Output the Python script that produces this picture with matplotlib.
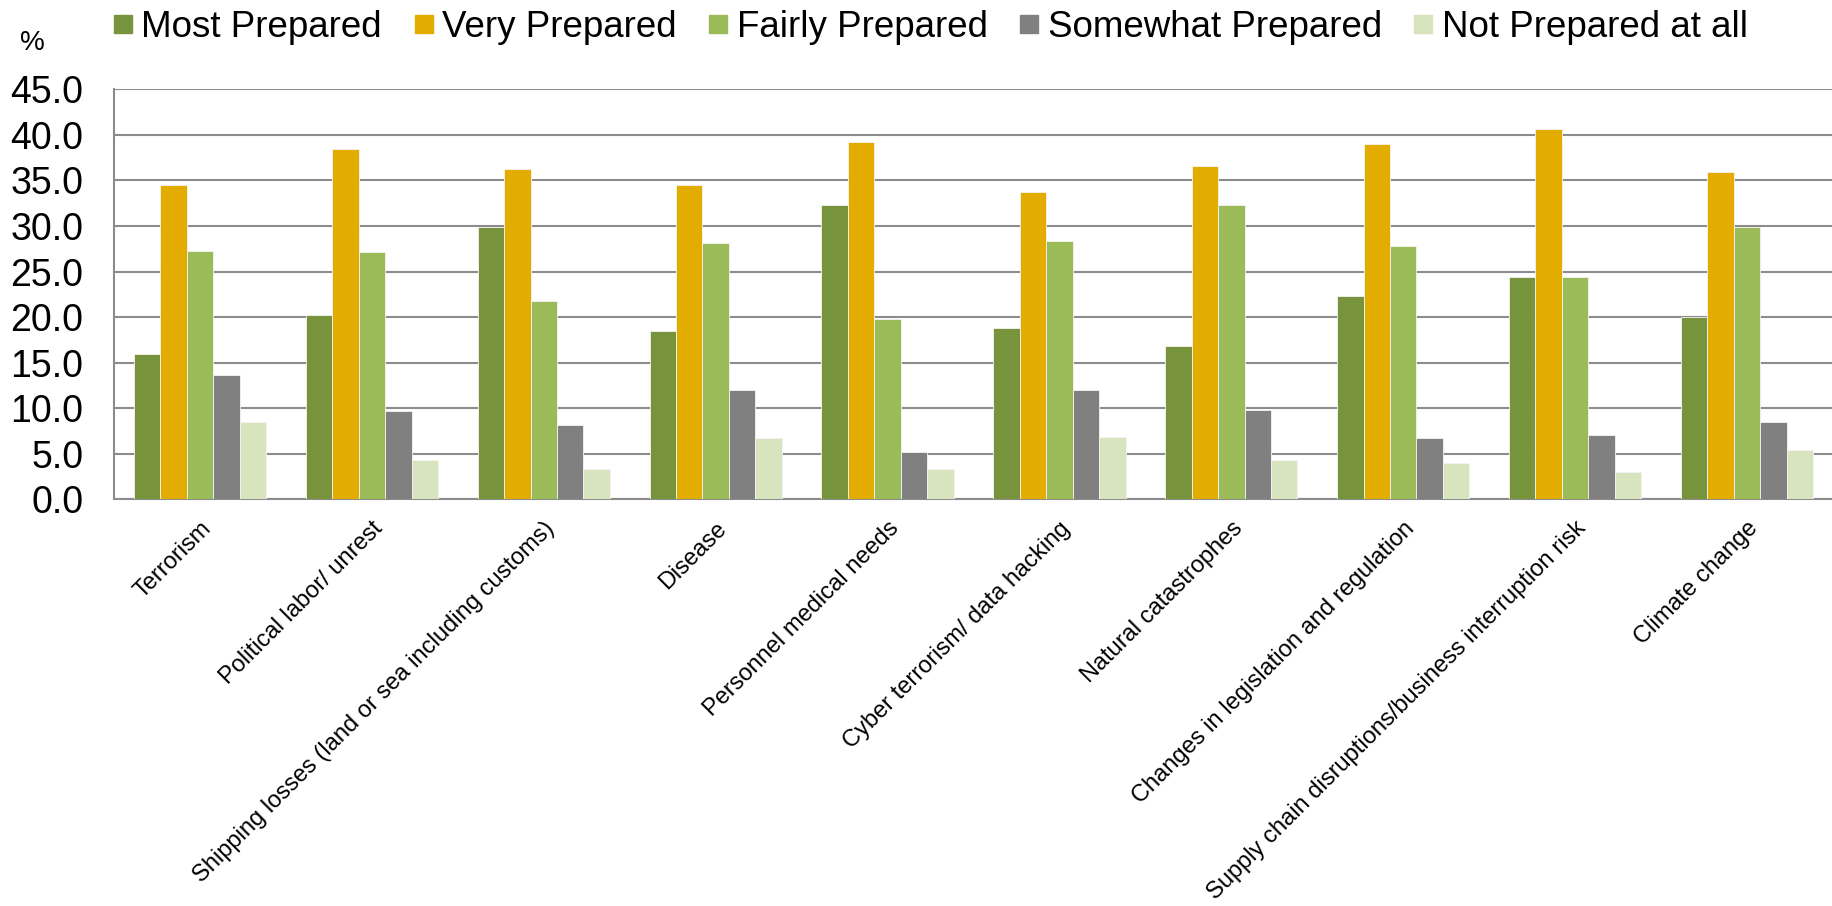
import numpy as np
import matplotlib
matplotlib.use("Agg")
import matplotlib.pyplot as plt

plt.rcParams["font.family"] = ["Liberation Sans", "DejaVu Sans"]

categories = [
    "Terrorism",
    "Political labor/ unrest",
    "Shipping losses (land or sea including customs)",
    "Disease",
    "Personnel medical needs",
    "Cyber terrorism/ data hacking",
    "Natural catastrophes",
    "Changes in legislation and regulation",
    "Supply chain disruptions/business interruption risk",
    "Climate change",
]

most_prepared = [16.0, 20.2, 29.9, 18.5, 32.3, 18.8, 16.8, 22.3, 24.4, 20.0]
very_prepared = [34.5, 38.4, 36.3, 34.5, 39.2, 33.7, 36.6, 39.0, 40.7, 35.9]
fairly_prepared = [27.3, 27.1, 21.8, 28.1, 19.8, 28.3, 32.3, 27.8, 24.4, 29.9]
somewhat_prepared = [13.6, 9.7, 8.2, 12.0, 5.2, 12.0, 9.8, 6.7, 7.1, 8.5]
not_prepared = [8.5, 4.3, 3.3, 6.7, 3.3, 6.8, 4.3, 4.0, 3.0, 5.4]

series = [
    ("Most Prepared", most_prepared, "#77933C"),
    ("Very Prepared", very_prepared, "#E2AC00"),
    ("Fairly Prepared", fairly_prepared, "#9BBB59"),
    ("Somewhat Prepared", somewhat_prepared, "#808080"),
    ("Not Prepared at all", not_prepared, "#D7E4BD"),
]

yticks = np.arange(0, 45.1, 5)

fig = plt.figure(figsize=(18.33, 9.06), dpi=100)
ax = fig.add_axes([0.0622, 0.4489, 0.9378, 0.4525])

x = np.arange(len(categories))
n = len(series)
bar_w = 1 / (n + 1.5)
handles = []
for i, (name, vals, color) in enumerate(series):
    offs = (i - (n - 1) / 2) * bar_w
    ax.bar(x + offs, vals, width=bar_w, color=color, edgecolor="#f4f4f4",
           linewidth=0.6, zorder=3)
    handles.append(plt.Line2D([], [], marker="s", linestyle="none",
                              markersize=13, color=color, label=name))

ax.set_xlim(-0.5, len(categories) - 0.5)
ax.set_ylim(0, 45)
ax.set_yticks(yticks)
ax.set_yticklabels([f"{v:.1f}" for v in yticks], fontsize=27)
ax.set_xticks(x)
ax.set_xticklabels(categories, rotation=45, ha="right", rotation_mode="anchor",
                   fontsize=17)
ax.tick_params(axis="both", length=0)
ax.tick_params(axis="y", pad=22)
ax.tick_params(axis="x", pad=13)

ax.grid(axis="y", color="#8c8c8c", linewidth=1.5, zorder=0)
for side in ["top", "right"]:
    ax.spines[side].set_visible(False)
for side in ["left", "bottom"]:
    ax.spines[side].set_color("#8c8c8c")
    ax.spines[side].set_linewidth(1.5)

fig.text(0.0175, 0.953, "%", fontsize=20, ha="center", va="center")

fig.legend(handles=handles, loc="center left", bbox_to_anchor=(0.057, 0.970),
           ncol=5, frameon=False, fontsize=26.5, handletextpad=0.0,
           columnspacing=0.63, handlelength=1.0, borderpad=0, borderaxespad=0)

fig.savefig("out.png", dpi=100)
